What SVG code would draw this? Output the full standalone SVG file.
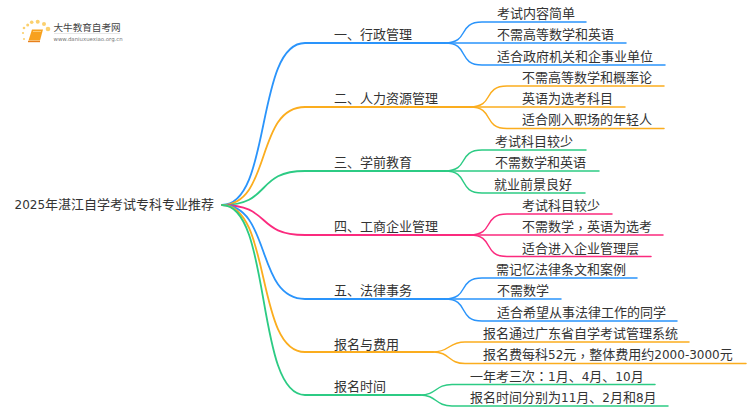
<svg xmlns="http://www.w3.org/2000/svg" width="750" height="410" viewBox="0 0 750 410">
<style>
text{font-family:"DejaVu Sans","Noto Sans CJK SC",sans-serif;font-size:13px;fill:#333}
.n{font-size:12px}
.p{font-family:"Noto Sans CJK TC",sans-serif}
.c path{fill:none;stroke-linecap:round}
.b{stroke-width:1.8}.l{stroke-width:1.5}
.blue{stroke:#2a94fb}.or{stroke:#fbad1e}.gr{stroke:#2ccb84}.pk{stroke:#fb2a7e}
</style>
<rect width="750" height="410" fill="#fff"/>
<g id="logo">
<g fill="#fbd06e"><circle cx="48" cy="29" r="2.300"/><circle cx="44" cy="24" r="2"/><circle cx="37.700" cy="21.700" r="2"/><circle cx="31.700" cy="22.300" r="1.800"/><circle cx="27.700" cy="25" r="1.500"/><circle cx="24" cy="28" r="1.300"/><circle cx="23" cy="33" r="1.100"/><circle cx="24" cy="39" r="1"/></g>
<path d="M32 29.500H43L40 40.500H28.500Z" fill="#f7a11f"/><path d="M28 41.500H40" stroke="#e8801c" stroke-width="1.400"/><path d="M33 31.500H41" stroke="#fcd58a" stroke-width="0.800"/>
<text x="53.500" y="31" style="font-size:9.600px;fill:#444">大牛教育自考网</text>
<path d="M54 33.500H120" stroke="#ddd" stroke-width="0.700"/>
<text x="53.500" y="41" style="font-size:5.400px;fill:#777">www.daniuxuexiao.org.cn</text>
</g>
<g id="connectors" class="c">
<path class="b blue" d="M222 205C272 205 255 43 305 43H445"/>
<path class="b or" d="M222 205C272 205 255 107 305 107H470"/>
<path class="b gr" d="M222 205C272 205 255 171 305 171H445"/>
<path class="b pk" d="M222 205C272 205 255 235 305 235H470"/>
<path class="b blue" d="M222 205C272 205 255 299 305 299H445"/>
<path class="b or" d="M222 205C272 205 255 352 305 352H433"/>
<path class="b gr" d="M222 205C272 205 255 395 305 395H420"/>
<path class="l blue" d="M445 43C470 43 457 22 482 22H586"/>
<path class="l blue" d="M445 43H626"/>
<path class="l blue" d="M445 43C470 43 457 65 482 65H665"/>
<path class="l or" d="M470 107C495 107 482 86 507 86H664"/>
<path class="l or" d="M470 107H625"/>
<path class="l or" d="M470 107C495 107 482 128.500 507 128.500H664"/>
<path class="l gr" d="M445 171C470 171 457 150 482 150H586"/>
<path class="l gr" d="M445 171H599"/>
<path class="l gr" d="M445 171C470 171 457 193 482 193H585"/>
<path class="l pk" d="M470 235C495 235 482 214 507 214H612"/>
<path class="l pk" d="M470 235H663"/>
<path class="l pk" d="M470 235C495 235 482 256.500 507 256.500H651"/>
<path class="l blue" d="M445 299C470 299 457 278 482 278H637"/>
<path class="l blue" d="M445 299H561"/>
<path class="l blue" d="M445 299C470 299 457 321 482 321H677"/>
<path class="l or" d="M433 352C450 352 448 342 465 342H689"/>
<path class="l or" d="M433 352C450 352 448 363.500 465 363.500H746"/>
<path class="l gr" d="M420 395C437 395 435 384.500 452 384.500H655"/>
<path class="l gr" d="M420 395C437 395 435 406 452 406H668"/>
</g>
<g id="root"><text x="14.500" y="209"><tspan class="n">2025</tspan>年湛江自学考试专科专业推荐</text></g>
<g id="n1"><text x="334" y="39">一、行政管理</text></g>
<g id="n2"><text x="334" y="103">二、人力资源管理</text></g>
<g id="n3"><text x="334" y="167">三、学前教育</text></g>
<g id="n4"><text x="334" y="231">四、工商企业管理</text></g>
<g id="n5"><text x="334" y="295">五、法律事务</text></g>
<g id="n6"><text x="334" y="349">报名与费用</text></g>
<g id="n7"><text x="334" y="391">报名时间</text></g>
<g id="n1a"><text x="497" y="18">考试内容简单</text></g>
<g id="n1b"><text x="497" y="39">不需高等数学和英语</text></g>
<g id="n1c"><text x="497" y="61">适合政府机关和企事业单位</text></g>
<g id="n2a"><text x="522" y="82">不需高等数学和概率论</text></g>
<g id="n2b"><text x="522" y="103">英语为选考科目</text></g>
<g id="n2c"><text x="522" y="124">适合刚入职场的年轻人</text></g>
<g id="n3a"><text x="495" y="146">考试科目较少</text></g>
<g id="n3b"><text x="495" y="167">不需数学和英语</text></g>
<g id="n3c"><text x="494" y="189">就业前景良好</text></g>
<g id="n4a"><text x="522" y="210">考试科目较少</text></g>
<g id="n4b"><text x="522" y="231">不需数学<tspan class="p" dy="2">，</tspan><tspan dy="-2">英语为选考</tspan></text></g>
<g id="n4c"><text x="522" y="253">适合进入企业管理层</text></g>
<g id="n5a"><text x="496" y="274">需记忆法律条文和案例</text></g>
<g id="n5b"><text x="497" y="295">不需数学</text></g>
<g id="n5c"><text x="497" y="317">适合希望从事法律工作的同学</text></g>
<g id="n6a"><text x="483" y="338">报名通过广东省自学考试管理系统</text></g>
<g id="n6b"><text x="483" y="359">报名费每科<tspan class="n">52</tspan>元<tspan class="p" dy="2">，</tspan><tspan dy="-2">整体费用约</tspan><tspan class="n">2000-3000</tspan>元</text></g>
<g id="n7a"><text x="470" y="381">一年考三次<tspan class="p">：</tspan><tspan class="n">1</tspan>月、<tspan class="n">4</tspan>月、<tspan class="n">10</tspan>月</text></g>
<g id="n7b"><text x="470" y="402">报名时间分别为<tspan class="n">11</tspan>月、<tspan class="n">2</tspan>月和<tspan class="n">8</tspan>月</text></g>
</svg>
